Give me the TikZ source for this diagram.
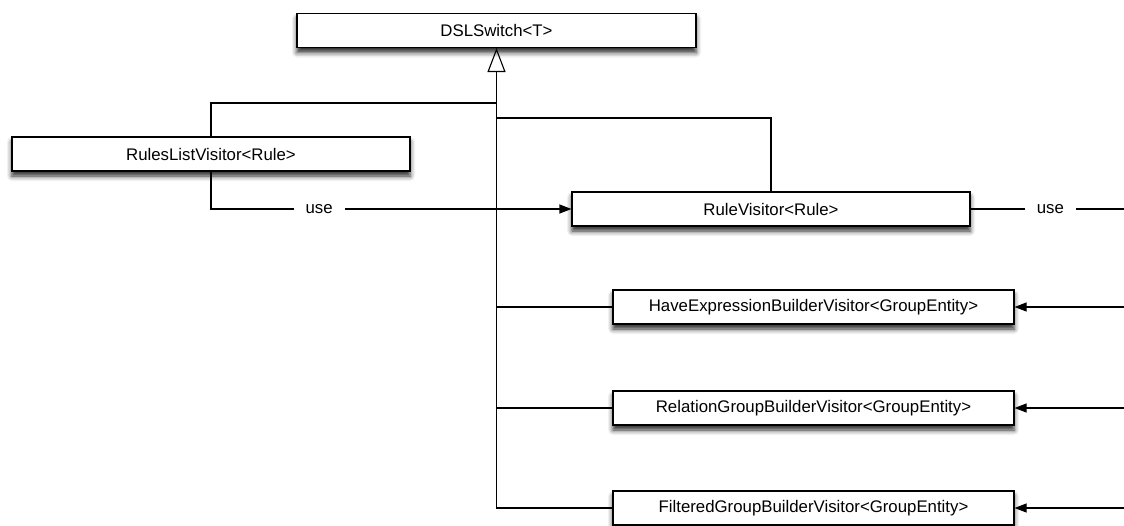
\documentclass[tikz,border=0pt]{standalone}
\usepackage{fontspec}
\setmainfont{Liberation Sans}
\usetikzlibrary{arrows.meta,shadows.blur}
\begin{document}
\begin{tikzpicture}[x=1pt,y=-1pt,
  cls/.style={draw=black,fill=white,line width=1.1pt,minimum height=34pt,inner sep=0pt,
    font=\fontsize{16.8}{18}\selectfont,
    blur shadow={shadow xshift=0pt,shadow yshift=-5pt,shadow blur radius=5pt,shadow opacity=85}},
  conn/.style={line width=1.1pt},
  inh/.style={conn,-{Triangle[open,width=18pt,length=24pt,line width=1.1pt]}},
  uses/.style={conn,-{Triangle[width=9pt,length=12pt]}},
  lbl/.style={fill=white,inner xsep=12pt,inner ysep=2pt,font=\fontsize{16.8}{18}\selectfont}]
\useasboundingbox (0,0) rectangle (1124,525);
\node[cls,minimum width=399pt] (dsl) at (496.5,30.5) {DSLSwitch<T>};
\node[cls,minimum width=398pt] (rlv) at (211,154) {RulesListVisitor<Rule>};
\node[cls,minimum width=398pt] (rv) at (771,209) {RuleVisitor<Rule>};
\node[cls,minimum width=401pt] (hev) at (813.5,307) {HaveExpressionBuilderVisitor<GroupEntity>};
\node[cls,minimum width=401pt] (rgb) at (813.5,408) {RelationGroupBuilderVisitor<GroupEntity>};
\node[cls,minimum width=401pt] (fgb) at (813.5,508) {FilteredGroupBuilderVisitor<GroupEntity>};
\coordinate (j1) at (496.5,103);
\coordinate (j2) at (496.5,118);
\coordinate (e1) at (1124,209);
\coordinate (e2) at (1124,307);
\coordinate (e3) at (1124,408);
\coordinate (e4) at (1124,508);
\draw[inh] (fgb.west) -| (dsl.south);
\draw[conn] (rlv.north) |- (j1);
\draw[conn] (rv.north) |- (j2);
\draw[conn] (hev.west) -- (hev.west -| dsl.south);
\draw[conn] (rgb.west) -- (rgb.west -| dsl.south);
\draw[uses] (rlv.south) |- node[lbl,pos=0.65] {use} (rv.west);
\draw[conn] (rv.east) -- node[lbl,pos=0.52] {use} (e1);
\draw[uses] (e2) -- (hev.east);
\draw[uses] (e3) -- (rgb.east);
\draw[uses] (e4) -- (fgb.east);
\end{tikzpicture}
\end{document}
